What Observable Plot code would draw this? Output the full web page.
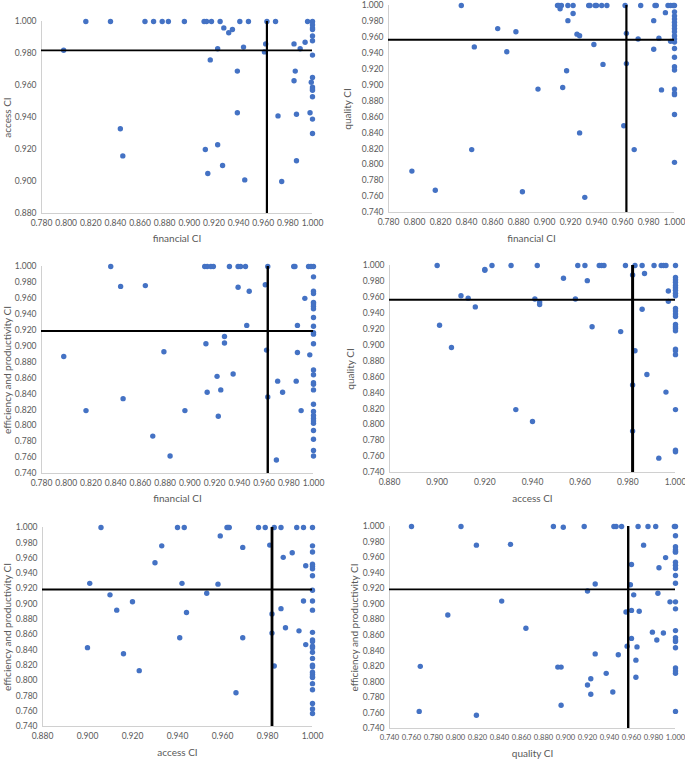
<!DOCTYPE html>
<html>
<head>
<meta charset="utf-8">
<script src="https://cdn.jsdelivr.net/npm/d3@7"></script>
<script src="https://cdn.jsdelivr.net/npm/@observablehq/plot@0.6"></script>
<style>
  html, body { margin: 0; padding: 0; background: #fff; }
  #wrap { position: relative; width: 685px; height: 760px; overflow: hidden; }
  #wrap > div { position: absolute; }
</style>
</head>
<body>
<div id="wrap"></div>
<script>
// ---------- tick labels ----------
const ticks078 = [0.78, 0.80, 0.82, 0.84, 0.86, 0.88, 0.90, 0.92, 0.94, 0.96, 0.98, 1.00];
const ticks074 = [0.74, 0.76, 0.78, 0.80, 0.82, 0.84, 0.86, 0.88, 0.90, 0.92, 0.94, 0.96, 0.98, 1.00];
const ticks088 = [0.88, 0.90, 0.92, 0.94, 0.96, 0.98, 1.00];

// ---------- thresholds (mean lines) ----------
const meanFinancial = 0.963;
const meanAccess = 0.982;
const meanQuality = 0.957;
const meanEfficiency = 0.919;

// ---------- series values: [x, y] ----------
const financialAccess = [
  [0.816,1],[0.836,1],[0.864,1],[0.871,1],[0.878,1],[0.883,1],[0.896,1],[0.912,1],[0.914,1],[0.918,1],
  [0.925,1],[0.941,1],[0.948,1],[0.963,1],[0.970,1],[0.996,1],
  [0.928,0.996],[0.932,0.993],[0.935,0.995],
  [0.798,0.982],[0.923,0.983],[0.944,0.984],[0.962,0.986],[0.961,0.981],[0.985,0.986],[0.994,0.987],[0.990,0.983],
  [1,1],[1,0.998],[1,0.996],[1,0.995],[1,0.991],[1,0.988],[1,0.979],[1,0.965],[1,0.959],[1,0.958],[1,0.957],
  [1,0.953],[1,0.939],[1,0.930],
  [0.917,0.976],[0.939,0.969],[0.986,0.969],[0.985,0.963],[0.999,0.962],
  [0.939,0.943],[0.998,0.943],[0.972,0.941],[0.987,0.942],
  [0.844,0.933],[0.846,0.916],[0.913,0.920],[0.923,0.923],[0.915,0.905],[0.927,0.910],[0.945,0.901],
  [0.975,0.900],[0.987,0.913]
];

const financialQuality = [
  [0.836,1],[0.910,1],[0.911,1],[0.913,1],[0.918,1],[0.922,1],[0.934,1],[0.935,1],[0.939,1],[0.940,1],
  [0.944,1],[0.948,1],[0.962,1],[0.974,1],[0.985,1],[0.986,1],[0.995,1],[0.997,1],[0.999,1],
  [0.912,0.996],[0.922,0.990],[0.993,0.991],[0.918,0.981],[0.984,0.981],[0.864,0.971],[0.878,0.967],
  [0.925,0.964],[0.927,0.962],[0.963,0.965],[0.972,0.958],[0.988,0.959],[0.997,0.955],
  [1,1],[1,0.992],[1,0.987],[1,0.983],[1,0.979],[1,0.975],[1,0.971],[1,0.967],[1,0.962],[1,0.958],
  [1,0.954],[1,0.946],[1,0.935],[1,0.923],[1,0.919],[1,0.895],[1,0.890],[1,0.888],[1,0.863],[1,0.803],
  [0.846,0.948],[0.871,0.942],[0.938,0.951],[0.984,0.945],[0.945,0.926],[0.963,0.927],[0.917,0.918],
  [0.895,0.895],[0.914,0.897],[0.990,0.894],[0.961,0.849],[0.927,0.840],[0.844,0.819],[0.969,0.819],
  [0.798,0.792],[0.816,0.768],[0.883,0.766],[0.931,0.759]
];

const financialEfficiency = [
  [0.836,1],[0.912,1],[0.914,1],[0.917,1],[0.919,1],[0.932,1],[0.939,1],[0.941,1],[0.945,1],[0.963,1],
  [0.984,1],[0.985,1],[0.996,1],[0.998,1],
  [0.844,0.975],[0.864,0.976],[0.939,0.974],[0.948,0.969],[0.961,0.977],[0.993,0.960],
  [0.946,0.926],[0.987,0.926],[0.928,0.912],[0.928,0.904],[0.913,0.903],[0.798,0.887],[0.879,0.893],
  [0.962,0.895],[0.987,0.892],[0.997,0.889],[0.922,0.862],[0.935,0.865],[0.971,0.856],[0.986,0.856],
  [0.925,0.845],[0.914,0.842],[0.975,0.842],[0.846,0.834],[0.963,0.836],[0.816,0.819],[0.896,0.819],
  [0.990,0.819],[0.923,0.812],[0.870,0.787],[0.884,0.762],[0.970,0.757],
  [1,1],[1,0.987],[1,0.969],[1,0.966],[1,0.955],[1,0.953],[1,0.950],[1,0.947],[1,0.936],[1,0.925],
  [1,0.917],[1,0.915],[1,0.903],[1,0.870],[1,0.864],[1,0.854],[1,0.852],[1,0.845],[1,0.827],[1,0.818],
  [1,0.813],[1,0.809],[1,0.806],[1,0.803],[1,0.794],[1,0.783],[1,0.769],[1,0.762]
];

const accessQuality = [
  [0.900,1],[0.923,1],[0.931,1],[0.942,1],[0.959,1],[0.962,1],[0.968,1],[0.969,1],[0.970,1],[0.979,1],
  [0.983,1],[0.986,1],[0.991,1],[0.994,1],[0.995,1],[0.996,1],
  [0.920,0.995],[0.920,0.994],[0.982,0.988],[0.987,0.990],[0.953,0.984],[0.963,0.981],
  [0.910,0.962],[0.913,0.959],[0.941,0.958],[0.943,0.954],[0.943,0.951],[0.958,0.958],[0.916,0.948],
  [0.997,0.955],[0.997,0.968],[0.986,0.945],[0.901,0.925],[0.965,0.923],[0.977,0.917],[0.906,0.897],
  [0.983,0.893],[0.988,0.863],[0.982,0.850],[0.996,0.841],[0.933,0.819],[0.940,0.804],[0.982,0.792],
  [0.993,0.758],
  [1,1],[1,0.985],[1,0.982],[1,0.979],[1,0.975],[1,0.972],[1,0.969],[1,0.965],[1,0.962],[1,0.946],
  [1,0.943],[1,0.939],[1,0.936],[1,0.926],[1,0.923],[1,0.921],[1,0.918],[1,0.895],[1,0.893],[1,0.888],
  [1,0.819],[1,0.768],[1,0.766]
];

const accessEfficiency = [
  [0.906,1],[0.940,1],[0.943,1],[0.962,1],[0.9625,1],[0.963,1],[0.976,1],[0.979,1],[0.983,1],[0.986,1],
  [0.993,1],[0.996,1],
  [0.959,0.989],[0.933,0.976],[0.969,0.974],[0.981,0.977],[0.987,0.961],[0.991,0.967],[0.930,0.954],
  [0.997,0.950],[0.901,0.927],[0.942,0.927],[0.958,0.926],[0.910,0.912],[0.953,0.914],[0.920,0.903],
  [0.996,0.904],[0.913,0.892],[0.944,0.889],[0.982,0.887],[0.986,0.894],[0.988,0.869],[0.982,0.862],
  [0.994,0.865],[0.941,0.856],[0.969,0.856],[0.900,0.843],[0.997,0.847],[0.916,0.835],[0.983,0.819],
  [0.923,0.813],[0.966,0.784],
  [1,1],[1,0.976],[1,0.968],[1,0.952],[1,0.949],[1,0.946],[1,0.937],[1,0.918],[1,0.904],[1,0.892],
  [1,0.863],[1,0.853],[1,0.851],[1,0.845],[1,0.843],[1,0.837],[1,0.829],[1,0.820],[1,0.818],[1,0.811],
  [1,0.808],[1,0.805],[1,0.804],[1,0.796],[1,0.788],[1,0.770],[1,0.763],[1,0.757]
];

const qualityEfficiency = [
  [0.760,1],[0.805,1],[0.889,1],[0.898,0.999],[0.917,1],[0.944,1],[0.946,1],[0.951,1],[0.966,1],[0.975,1],
  [0.982,1],[0.999,1],[1,1],
  [0.819,0.976],[0.850,0.977],[0.971,0.976],[1,0.988],[1,0.974],[1,0.970],[1,0.968],[1,0.967],
  [0.991,0.960],[0.960,0.951],[0.985,0.947],[1,0.954],[1,0.950],[1,0.946],[1,0.937],[1,0.927],
  [0.927,0.926],[0.959,0.925],[0.920,0.917],[0.962,0.912],[0.984,0.914],[0.842,0.904],[0.995,0.903],
  [1,0.903],[1,0.894],[0.793,0.886],[0.955,0.890],[0.960,0.892],[0.967,0.891],[0.864,0.869],
  [0.979,0.864],[0.989,0.863],[1,0.866],[0.960,0.856],[0.983,0.854],[1,0.857],[1,0.854],[1,0.852],
  [0.956,0.846],[0.965,0.845],[1,0.844],[0.927,0.836],[0.948,0.835],[0.964,0.828],[0.768,0.820],
  [0.893,0.819],[0.896,0.819],[1,0.818],[1,0.814],[1,0.811],[0.937,0.811],[0.923,0.804],[0.964,0.806],
  [0.920,0.796],[0.923,0.784],[0.943,0.787],[0.896,0.770],[0.767,0.762],[1,0.762],[0.819,0.757]
];

// ---------- drawing ----------
const fmt = d3.format(".3f");
const FONT = "Lato, 'Open Sans', sans-serif";
const GREY = "#595959";

function panel(o) {
  const chart = Plot.plot({
    width: o.width, height: o.height,
    marginLeft: o.mL, marginRight: o.mR, marginTop: o.mT, marginBottom: o.mB,
    style: {fontFamily: FONT, fontSize: "8.5px", color: GREY, background: "transparent", overflow: "visible"},
    x: {domain: [o.xTicks[0], 1]},
    y: {domain: [o.yTicks[0], 1]},
    marks: [
      Plot.ruleX([o.xTicks[0]], {stroke: "#d0d0d0", strokeWidth: 1}),
      Plot.ruleY([o.yTicks[0]], {stroke: "#d0d0d0", strokeWidth: 1}),
      Plot.axisX({ticks: o.xTicks, tickFormat: fmt, tickSize: 0, tickPadding: 6, label: null, fill: GREY, fontSize: o.xFS || 8.5}),
      Plot.axisY({ticks: o.yTicks, tickFormat: fmt, tickSize: 0, tickPadding: 5, label: null, fill: GREY, fontSize: 8.5}),
      Plot.axisX({ticks: [], label: o.xLabel, labelAnchor: "center", labelArrow: "none", labelOffset: o.xLO, fontSize: 10, fill: GREY}),
      Plot.axisY({ticks: [], label: o.yLabel, labelAnchor: "center", labelArrow: "none", labelOffset: o.yLO, fontSize: 10, fill: GREY}),
      Plot.dot(o.data, {x: d => d[0], y: d => d[1], r: 2.7, fill: "#4472C4", stroke: "none"}),
      Plot.ruleX([o.vx], {stroke: "#000", strokeWidth: o.vW}),
      Plot.ruleY([o.hy], {stroke: "#000", strokeWidth: o.hW})
    ]
  });
  const holder = document.createElement("div");
  holder.style.left = o.left + "px";
  holder.style.top = o.top + "px";
  holder.appendChild(chart);
  document.getElementById("wrap").appendChild(holder);
}

panel({left: 0, top: 0, width: 340, height: 250, mL: 41, mR: 28, mT: 21, mB: 37,
  xTicks: ticks078, yTicks: ticks088, data: financialAccess, vx: meanFinancial, hy: meanAccess,
  xLabel: "financial CI", yLabel: "access CI", xLO: 28.5, yLO: 38, vW: 2.2, hW: 1.8});

panel({left: 340, top: 0, width: 345, height: 250, mL: 48, mR: 11, mT: 5, mB: 38,
  xTicks: ticks078, yTicks: ticks074, data: financialQuality, vx: meanFinancial, hy: meanQuality,
  xLabel: "financial CI", yLabel: "quality CI", xLO: 29.5, yLO: 45, vW: 2.2, hW: 1.8});

panel({left: 0, top: 250, width: 340, height: 255, mL: 41, mR: 27, mT: 16, mB: 32,
  xTicks: ticks078, yTicks: ticks074, data: financialEfficiency, vx: meanFinancial, hy: meanEfficiency,
  xLabel: "financial CI", yLabel: "efficiency and productivity CI", xLO: 28.5, yLO: 38, vW: 2.4, hW: 1.8});

panel({left: 340, top: 250, width: 345, height: 255, mL: 49, mR: 10, mT: 15, mB: 33,
  xTicks: ticks088, yTicks: ticks074, data: accessQuality, vx: meanAccess, hy: meanQuality,
  xLabel: "access CI", yLabel: "quality CI", xLO: 29.5, yLO: 43, vW: 3, hW: 1.8});

panel({left: 0, top: 505, width: 340, height: 255, mL: 42, mR: 28, mT: 22, mB: 34,
  xTicks: ticks088, yTicks: ticks074, data: accessEfficiency, vx: meanAccess, hy: meanEfficiency,
  xLabel: "access CI", yLabel: "efficiency and productivity CI", xLO: 29.5, yLO: 39, vW: 2.8, hW: 1.8});

panel({left: 340, top: 505, width: 345, height: 255, mL: 49, mR: 10, mT: 21, mB: 32,
  xTicks: ticks074, yTicks: ticks074, data: qualityEfficiency, vx: meanQuality, hy: meanEfficiency,
  xLabel: "quality CI", yLabel: "efficiency and productivity CI", xLO: 28.5, yLO: 39, vW: 2.4, hW: 1.8, xFS: 7.6});
</script>
</body>
</html>
